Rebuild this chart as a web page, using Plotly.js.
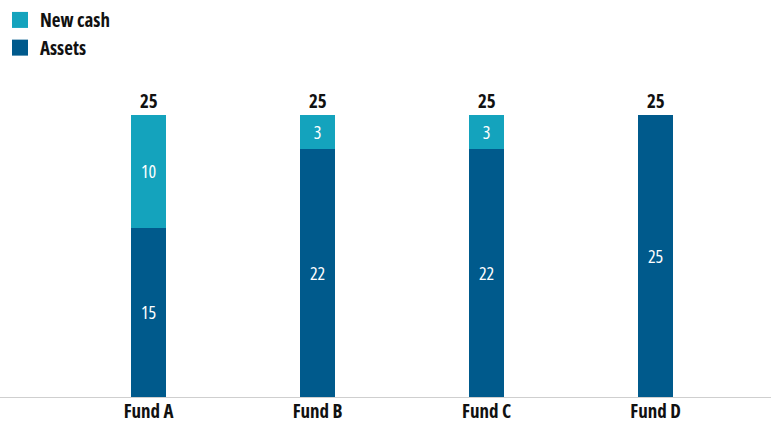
<!DOCTYPE html>
<html><head><meta charset="utf-8">
<script src="https://cdn.plot.ly/plotly-3.0.1.min.js"></script>
<style>body{margin:0;padding:0;background:#fff}#chart{width:781px;height:423px}
#chart svg text{font-stretch:condensed !important;}</style>
</head><body><div id="chart"></div>
<script>
const categories = ["Fund A", "Fund B", "Fund C", "Fund D"];
const assets = [15, 22, 22, 25];
const newCash = [10, 3, 3, 0];
const totals = assets.map((a, i) => a + newCash[i]);
const seriesNames = ["Assets", "New cash"];
const seriesColors = ["#005A8C", "#14A3BD"];

const FONT = "Open Sans";

const traces = [
  {type: "bar", name: seriesNames[0], x: categories, y: assets, width: 0.21, showlegend: false,
   marker: {color: seriesColors[0]}, text: assets.map(String), textposition: "inside",
   insidetextanchor: "middle", textfont: {color: "#ffffff", size: 18, family: FONT, weight: 500}, hoverinfo: "none"},
  {type: "bar", name: seriesNames[1], x: categories, y: newCash, width: 0.21, showlegend: false,
   marker: {color: seriesColors[1]}, text: newCash.map(v => v ? String(v) : ""), textposition: "inside",
   insidetextanchor: "middle", textfont: {color: "#ffffff", size: 18, family: FONT, weight: 500}, hoverinfo: "none"},
  // legend-only entries (larger square swatches)
  {type: "scatter", mode: "markers", name: seriesNames[0], x: [null], y: [null],
   marker: {symbol: "square", size: 16, color: seriesColors[0]}, hoverinfo: "none"},
  {type: "scatter", mode: "markers", name: seriesNames[1], x: [null], y: [null],
   marker: {symbol: "square", size: 16, color: seriesColors[1]}, hoverinfo: "none"}
];

const annotations = categories.map((c, i) => ({
  x: c, y: totals[i], xref: "x", yref: "y", text: String(totals[i]),
  showarrow: false, yanchor: "bottom", yshift: -1,
  font: {size: 19, color: "#111", family: FONT, weight: 700}
}));

const layout = {
  width: 781, height: 423,
  margin: {l: 0, r: 10, t: 115, b: 26},
  barmode: "stack",
  paper_bgcolor: "#fff", plot_bgcolor: "#fff",
  font: {family: FONT},
  showlegend: true,
  legend: {x: 0, y: 1.404, xanchor: "left", yanchor: "top", traceorder: "reversed",
           font: {size: 19, color: "#111", family: FONT, weight: 700}, itemwidth: 30, tracegroupgap: 0},
  xaxis: {type: "category", range: [-0.879, 3.683], showline: true, linecolor: "#cfcfcf", linewidth: 1,
          ticks: "", showgrid: false, zeroline: false, ticklabelstandoff: -3,
          tickfont: {size: 19, color: "#111", family: FONT, weight: 700}},
  yaxis: {range: [0, 25], visible: false, showgrid: false, zeroline: false},
  annotations: annotations
};

Plotly.newPlot("chart", traces, layout, {displayModeBar: false, staticPlot: true});
</script></body></html>
